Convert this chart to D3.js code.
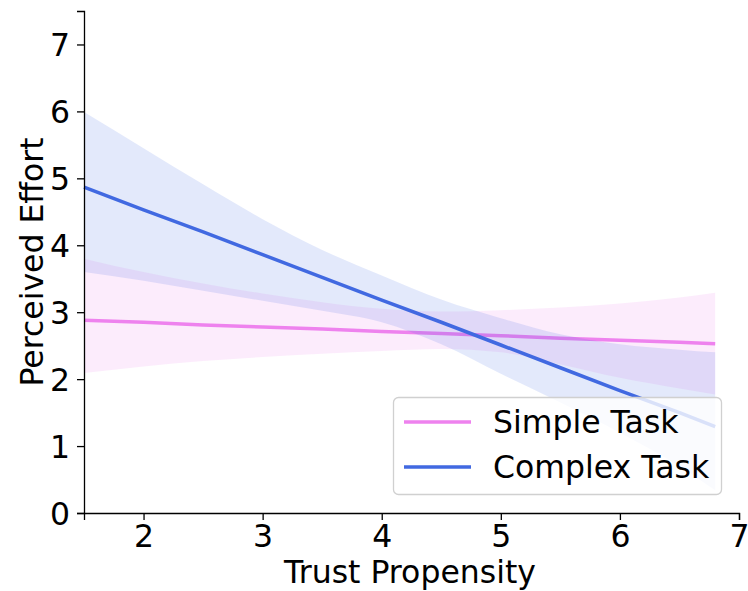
<!DOCTYPE html>
<html>
<head>
<meta charset="utf-8">
<script src="https://cdn.jsdelivr.net/npm/d3@7"></script>
<style>
  body { margin: 0; background: #fff; }
  text { font-family: "DejaVu Sans", sans-serif; fill: #000; }
</style>
</head>
<body>
<div id="chart"></div>
<script>
// Data
var xs = [1.5, 2.0, 2.5, 3.0, 3.5, 4.0, 4.5, 5.0, 5.5, 6.0, 6.5, 6.8];

var simpleFit   = [2.88, 2.85, 2.81, 2.78, 2.75, 2.71, 2.68, 2.65, 2.61, 2.58, 2.55, 2.53];
var simpleUpper = [3.80, 3.60, 3.43, 3.28, 3.15, 3.05, 3.01, 3.03, 3.07, 3.13, 3.22, 3.29];
var simpleLower = [2.09, 2.19, 2.27, 2.33, 2.38, 2.42, 2.45, 2.40, 2.22, 2.02, 1.86, 1.77];

var complexFit   = [4.87, 4.53, 4.20, 3.86, 3.52, 3.18, 2.85, 2.51, 2.17, 1.83, 1.50, 1.29];
var complexUpper = [5.99, 5.45, 4.91, 4.39, 3.93, 3.55, 3.19, 2.91, 2.67, 2.52, 2.44, 2.40];
var complexLower = [3.60, 3.47, 3.32, 3.17, 3.02, 2.85, 2.52, 2.08, 1.65, 1.20, 0.70, 0.34];

var seriesNames = ["Simple Task", "Complex Task"];
var seriesColors = ["violet", "royalblue"];

var xTicks = [2, 3, 4, 5, 6, 7];
var yTicks = [0, 1, 2, 3, 4, 5, 6, 7];

var fontSize = "31.5px";

// SVG area
var svgWidth = 748;
var svgHeight = 591;

var margin = { top: 11, right: 9, bottom: 78, left: 84 };
var width = svgWidth - margin.left - margin.right;
var height = svgHeight - margin.top - margin.bottom;

var svg = d3.select("#chart")
  .append("svg")
  .attr("width", svgWidth)
  .attr("height", svgHeight);

var chartGroup = svg.append("g")
  .attr("transform", `translate(${margin.left}, ${margin.top})`);

var xScale = d3.scaleLinear().domain([1.5, 7]).range([0, width]);
var yScale = d3.scaleLinear().domain([0, 7.5]).range([height, 0]);

function rows(fit, lo, hi) {
  return xs.map((x, i) => ({ x: x, y: fit[i], lo: lo[i], hi: hi[i] }));
}

var series = [
  rows(simpleFit, simpleLower, simpleUpper),
  rows(complexFit, complexLower, complexUpper)
];

var area = d3.area()
  .x(d => xScale(d.x))
  .y0(d => yScale(d.lo))
  .y1(d => yScale(d.hi))
  .curve(d3.curveMonotoneX);

var line = d3.line()
  .x(d => xScale(d.x))
  .y(d => yScale(d.y));

// bands and fit lines
series.forEach(function(data, i) {
  chartGroup.append("path")
    .datum(data)
    .attr("d", area)
    .attr("fill", seriesColors[i])
    .attr("fill-opacity", 0.15);

  chartGroup.append("path")
    .datum(data)
    .attr("d", line)
    .attr("fill", "none")
    .attr("stroke", seriesColors[i])
    .attr("stroke-width", 3.5);
});

// axes
var bottomAxis = d3.axisBottom(xScale).tickValues(xTicks).tickSize(7).tickPadding(5).tickFormat(d3.format("d"));
var leftAxis = d3.axisLeft(yScale).tickValues(yTicks).tickSize(7).tickPadding(7).tickFormat(d3.format("d"));

var xAxis = chartGroup.append("g")
  .attr("transform", `translate(0, ${height})`)
  .call(bottomAxis);

var yAxis = chartGroup.append("g")
  .call(leftAxis);

[xAxis, yAxis].forEach(function(ax) {
  ax.select(".domain").attr("stroke", "#000").attr("stroke-width", 1.3);
  ax.selectAll(".tick line").attr("stroke", "#000").attr("stroke-width", 1.3);
  ax.selectAll(".tick text")
    .style("font-family", "DejaVu Sans")
    .style("font-size", fontSize)
    .attr("fill", "#000");
});
yAxis.selectAll(".tick text").attr("dy", "0.36em");

// axis labels
chartGroup.append("text")
  .attr("x", 410 - margin.left)
  .attr("y", height + 70)
  .attr("text-anchor", "middle")
  .style("font-size", fontSize)
  .text("Trust Propensity");

chartGroup.append("text")
  .attr("transform", "rotate(-90)")
  .attr("x", -(262 - margin.top))
  .attr("y", -margin.left + 43)
  .attr("text-anchor", "middle")
  .style("font-size", fontSize)
  .text("Perceived Effort");

// legend
var legend = svg.append("g").attr("transform", "translate(393, 397)");

legend.append("rect")
  .attr("x", 0.5)
  .attr("y", 0.5)
  .attr("width", 328)
  .attr("height", 97)
  .attr("rx", 5)
  .attr("fill", "#fff")
  .attr("fill-opacity", 0.8)
  .attr("stroke", "#d0d0d0")
  .attr("stroke-width", 1.3);

seriesNames.forEach(function(name, i) {
  var yy = 25 + i * 45;
  legend.append("line")
    .attr("x1", 11)
    .attr("x2", 78)
    .attr("y1", yy)
    .attr("y2", yy)
    .attr("stroke", seriesColors[i])
    .attr("stroke-width", 3.5);
  legend.append("text")
    .attr("x", 100)
    .attr("y", yy + 11)
    .style("font-size", fontSize)
    .text(name);
});
</script>
</body>
</html>
